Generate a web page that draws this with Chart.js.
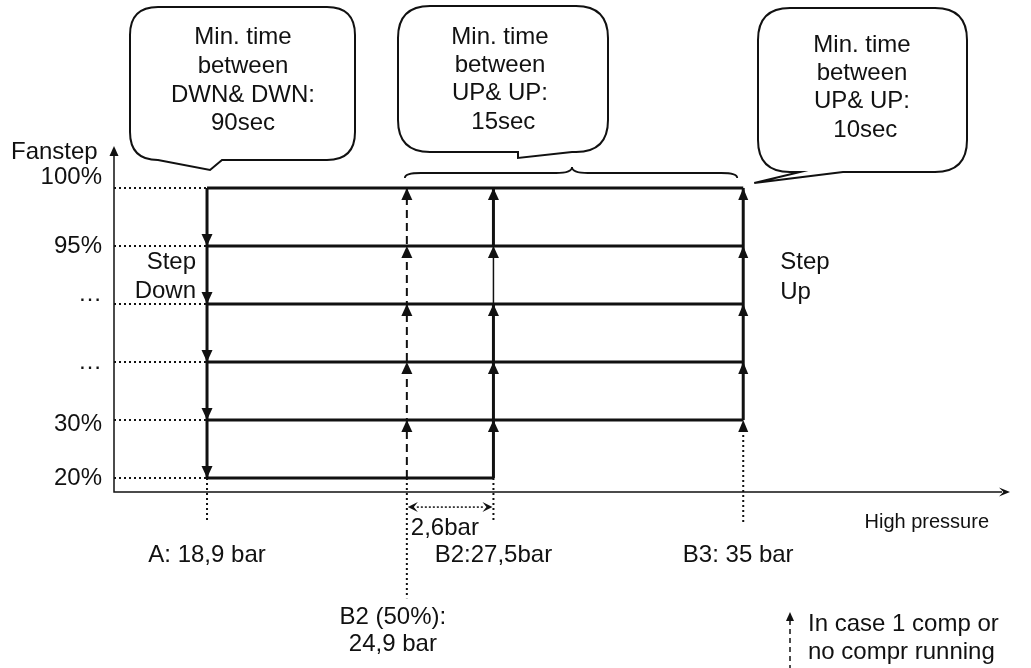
<!DOCTYPE html>
<html>
<head>
<meta charset="utf-8">
<script src="https://cdn.jsdelivr.net/npm/chart.js@4/dist/chart.umd.min.js"></script>
<style>
  html, body { margin: 0; padding: 0; background: #fff; }
  canvas { display: block; }
</style>
</head>
<body>
<canvas id="chart" width="1031" height="668"></canvas>
<script>
// fan step levels (bottom to top) and their labels
const levels = [0, 1, 2, 3, 4, 5];
const levelLabels = ['20%', '30%', '…', '…', '95%', '100%'];
// high pressure switch points, bar
const pointBar = [18.9, 24.9, 27.5, 35];
const pointLabels = ['A: 18,9 bar', 'B2 (50%):\n24,9 bar', 'B2:27,5bar', 'B3: 35 bar'];
// where each level line ends (bar)
const levelLineEnd = [27.5, 35, 35, 35, 35, 35];
const b3FirstLevel = 1;
const calloutTexts = [
    ['Min. time', 'between', 'DWN& DWN:', '90sec'],
    ['Min. time', 'between', 'UP& UP:', ' 15sec'],
    ['Min. time', 'between', 'UP& UP:', ' 10sec']
];

const A = pointBar[0], B2h = pointBar[1], B2 = pointBar[2], B3 = pointBar[3];
const xMin = 16.107, xMax = 43.01, yMin = -0.24, yMax = 5.723;
const FONT = '24px "Liberation Sans", Arial, sans-serif';
const INK = '#111';

const line = (data, extra) => Object.assign({
    data: data,
    showLine: true,
    borderColor: INK,
    borderWidth: 3,
    pointRadius: 0,
    fill: false,
    clip: false,
    tension: 0
}, extra);
const dotted = { borderWidth: 2, borderDash: [2, 3] };

const datasets = [];
levels.forEach((lv, i) => {
    datasets.push(line([{ x: xMin, y: lv }, { x: A, y: lv }], dotted));
    datasets.push(line([{ x: A, y: lv }, { x: levelLineEnd[i], y: lv }]));
});
datasets.push(line(levels.map(lv => ({ x: A, y: lv }))));
datasets.push(line(levels.map(lv => ({ x: B2h, y: lv })), { borderWidth: 2, borderDash: [8, 5] }));
datasets.push(line(levels.map(lv => ({ x: B2, y: lv })), {
    segment: { borderWidth: c => c.p0DataIndex === 3 ? 1.5 : 3 }
}));
datasets.push(line(levels.slice(b3FirstLevel).map(lv => ({ x: B3, y: lv }))));

// dotted drop lines below the steps
datasets.push(line([{ x: A, y: 0 }, { x: A, y: -0.76 }], dotted));
datasets.push(line([{ x: B2h, y: 0 }, { x: B2h, y: -2.07 }], dotted));
datasets.push(line([{ x: B2, y: 0 }, { x: B2, y: -0.76 }], dotted));
datasets.push(line([{ x: B3, y: 0.83 }, { x: B3, y: -0.76 }], dotted));
// 2,6bar span
datasets.push(line([{ x: B2h + 0.3, y: -0.5 }, { x: B2 - 0.3, y: -0.5 }], { borderWidth: 1.5, borderDash: [2, 2] }));

const arrow = (ctx, x, y, dir, w, h) => {
    w = w || 5.5; h = h || 11;
    ctx.beginPath();
    if (dir === 'up') { ctx.moveTo(x, y); ctx.lineTo(x - w, y + h); ctx.lineTo(x + w, y + h); }
    if (dir === 'down') { ctx.moveTo(x, y); ctx.lineTo(x - w, y - h); ctx.lineTo(x + w, y - h); }
    if (dir === 'left') { ctx.moveTo(x, y); ctx.lineTo(x + h, y - w); ctx.lineTo(x + h * 0.6, y); ctx.lineTo(x + h, y + w); }
    if (dir === 'right') { ctx.moveTo(x, y); ctx.lineTo(x - h, y - w); ctx.lineTo(x - h * 0.6, y); ctx.lineTo(x - h, y + w); }
    ctx.closePath();
    ctx.fill();
};

const callout = (ctx, x0, y0, x1, y1, r, tail) => {
    const [bx1, tx, ty, bx2] = tail;
    ctx.beginPath();
    ctx.moveTo(x0 + r, y0);
    ctx.lineTo(x1 - r, y0);
    ctx.quadraticCurveTo(x1, y0, x1, y0 + r);
    ctx.lineTo(x1, y1 - r);
    ctx.quadraticCurveTo(x1, y1, x1 - r, y1);
    ctx.lineTo(bx2, y1);
    ctx.lineTo(tx, ty);
    ctx.lineTo(bx1, y1);
    if (bx1 > x0 + r) ctx.lineTo(x0 + r, y1);
    ctx.quadraticCurveTo(x0, y1, x0, y1 - r);
    ctx.lineTo(x0, y0 + r);
    ctx.quadraticCurveTo(x0, y0, x0 + r, y0);
    ctx.closePath();
    ctx.fillStyle = '#fff';
    ctx.fill();
    ctx.lineWidth = 2;
    ctx.strokeStyle = INK;
    ctx.stroke();
};

const brace = (ctx, x1, x2, yEnd, yFlat, yPeak, mid) => {
    const r = 16;
    ctx.beginPath();
    ctx.moveTo(x1, yEnd);
    ctx.quadraticCurveTo(x1, yFlat, x1 + r, yFlat);
    ctx.lineTo(mid - r, yFlat);
    ctx.quadraticCurveTo(mid, yFlat, mid, yPeak);
    ctx.quadraticCurveTo(mid, yFlat, mid + r, yFlat);
    ctx.lineTo(x2 - r, yFlat);
    ctx.quadraticCurveTo(x2, yFlat, x2, yEnd);
    ctx.lineWidth = 1.8;
    ctx.strokeStyle = INK;
    ctx.stroke();
};

const labelShift = [0, 4, 0, -10, 0, -11];

const diagramPlugin = {
    id: 'diagram',
    afterDatasetsDraw(chart) {
        const ctx = chart.ctx;
        const ca = chart.chartArea;
        const xs = chart.scales.x, ys = chart.scales.y;
        const px = v => xs.getPixelForValue(v);
        const py = v => ys.getPixelForValue(v);
        ctx.save();
        ctx.fillStyle = INK;
        ctx.strokeStyle = INK;

        // axes
        ctx.lineWidth = 1.5;
        ctx.beginPath();
        ctx.moveTo(ca.left, ca.top + 8);
        ctx.lineTo(ca.left, ca.bottom);
        ctx.lineTo(ca.right - 8, ca.bottom);
        ctx.stroke();
        arrow(ctx, ca.left, ca.top, 'up', 4.5, 10);
        arrow(ctx, ca.right, ca.bottom, 'right', 4.5, 11);

        // step arrows
        levels.forEach(lv => {
            if (lv < 5) arrow(ctx, px(A), py(lv), 'down', 5.5, 12);
            if (lv > 0) {
                arrow(ctx, px(B2h), py(lv), 'up', 5.5, 12);
                arrow(ctx, px(B2), py(lv), 'up', 5.5, 12);
            }
            if (lv >= b3FirstLevel) arrow(ctx, px(B3), py(lv), 'up', 5, 12);
        });
        arrow(ctx, px(B2h) + 1, py(-0.5), 'left', 5, 10);
        arrow(ctx, px(B2) - 1, py(-0.5), 'right', 5, 10);

        // text
        ctx.font = FONT;
        ctx.textBaseline = 'middle';
        ctx.textAlign = 'right';
        levels.forEach((lv, i) => ctx.fillText(levelLabels[i], ca.left - 12, py(lv) + labelShift[i]));
        ctx.textAlign = 'left';
        ctx.fillText('Fanstep', 11, ca.top + 6);

        ctx.textAlign = 'right';
        ctx.fillText('Step', px(A) - 11, 262);
        ctx.fillText('Down', px(A) - 11, 291);
        ctx.textAlign = 'left';
        ctx.fillText('Step', px(B3) + 37, 262);
        ctx.fillText('Up', px(B3) + 37, 292);

        ctx.textAlign = 'center';
        ctx.fillText(pointLabels[0], px(A), 555);
        ctx.fillText(pointLabels[2], px(B2), 555);
        ctx.fillText(pointLabels[3], px(B3) - 5, 555);
        pointLabels[1].split('\n').forEach((t, k) => ctx.fillText(t, px(B2h) - 14, 617 + k * 27));

        ctx.textAlign = 'left';
        ctx.fillText('2,6bar', px(B2h) + 4, 528);
        ctx.textAlign = 'right';
        ctx.font = '20px "Liberation Sans", Arial, sans-serif';
        ctx.fillText('High pressure', 989, 522);
        ctx.font = FONT;

        // legend
        ctx.lineWidth = 1.5;
        ctx.setLineDash([5, 4]);
        ctx.beginPath();
        ctx.moveTo(790, 620);
        ctx.lineTo(790, 668);
        ctx.stroke();
        ctx.setLineDash([]);
        arrow(ctx, 790, 612, 'up', 4, 9);
        ctx.textAlign = 'left';
        ctx.fillText('In case 1 comp or', 808, 624);
        ctx.fillText('no compr running', 808, 652);

        // brace over the step-up range
        brace(ctx, px(B2h) - 2, px(B3) - 6, 178, 173, 167, 572);

        // callouts
        const boxes = [
            { x0: 130, y0: 7, x1: 355, y1: 160, r: 28, tail: [158, px(A) + 3, 170, 222], cx: 243, ys: [37, 66, 95, 123] },
            { x0: 398, y0: 6, x1: 608, y1: 152, r: 32, tail: [518, 518, 158, 572], cx: 500, ys: [37, 65, 93, 122] },
            { x0: 758, y0: 8, x1: 967, y1: 172, r: 32, tail: [800, px(B3) + 11, 183, 843], cx: 862, ys: [45, 73, 101, 130] }
        ];
        boxes.forEach((b, i) => {
            callout(ctx, b.x0, b.y0, b.x1, b.y1, b.r, b.tail);
            ctx.fillStyle = INK;
            ctx.font = FONT;
            ctx.textAlign = 'center';
            ctx.textBaseline = 'middle';
            calloutTexts[i].forEach((t, k) => ctx.fillText(t, b.cx, b.ys[k]));
        });

        ctx.restore();
    }
};

new Chart(document.getElementById('chart'), {
    type: 'scatter',
    data: { datasets: datasets },
    options: {
        responsive: false,
        animation: false,
        devicePixelRatio: 1,
        layout: { padding: { left: 114, top: 146, right: 21, bottom: 176 } },
        scales: {
            x: { type: 'linear', min: xMin, max: xMax, display: false },
            y: { type: 'linear', min: yMin, max: yMax, display: false }
        },
        plugins: { legend: { display: false }, tooltip: { enabled: false } },
        events: []
    },
    plugins: [diagramPlugin]
});
</script>
</body>
</html>
